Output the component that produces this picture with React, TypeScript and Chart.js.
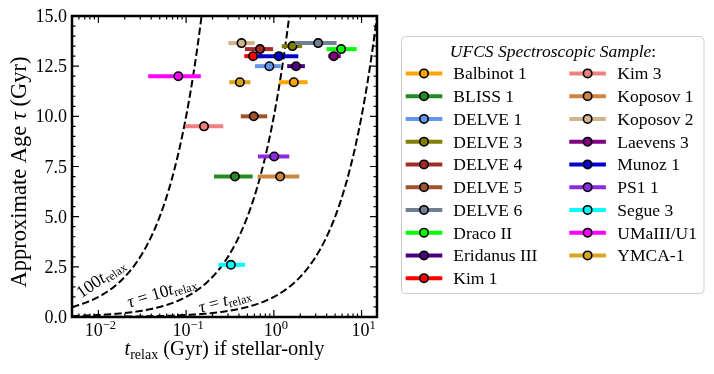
import React, { useEffect, useRef } from 'react';
import { Chart, registerables } from 'chart.js';

Chart.register(...registerables);

// ---------- data ----------
const clusterNames = ['Balbinot 1', 'BLISS 1', 'DELVE 1', 'DELVE 3', 'DELVE 4', 'DELVE 5', 'DELVE 6', 'Draco II', 'Eridanus III', 'Kim 1', 'Kim 3', 'Koposov 1', 'Koposov 2', 'Laevens 3', 'Munoz 1', 'PS1 1', 'Segue 3', 'UMaIII/U1', 'YMCA-1'];
const clusterColors = ['#FFA500', '#228B22', '#6495ED', '#808000', '#A52A2A', '#A0522D', '#708090', '#00FF00', '#4B0082', '#FF0000', '#F08080', '#CD853F', '#D2B48C', '#800080', '#0000CD', '#8A2BE2', '#00FFFF', '#FF00FF', '#DAA520'];
const tRelax = [1.69, 0.36, 0.89, 1.63, 0.695, 0.59, 3.2, 5.85, 1.79, 0.58, 0.16, 1.18, 0.428, 4.82, 1.14, 1.01, 0.324, 0.0815, 0.41];
const tRelaxLow = [1.15, 0.208, 0.61, 1.23, 0.469, 0.42, 1.75, 4.0, 1.42, 0.46, 0.097, 0.653, 0.303, 4.17, 0.65, 0.66, 0.233, 0.037, 0.31];
const tRelaxHigh = [2.43, 0.574, 1.2, 2.1, 0.98, 0.84, 5.19, 8.8, 2.26, 0.75, 0.265, 1.95, 0.605, 5.8, 1.9, 1.5, 0.47, 0.147, 0.54];
const ages = [11.7, 7.0, 12.5, 13.5, 13.35, 10.0, 13.65, 13.35, 12.5, 13.0, 9.5, 7.0, 13.65, 13.0, 13.0, 8.0, 2.6, 12.0, 11.7];

// relations tau = k * t_relax
const relationFactors = [100, 10, 1];
const relationLabelX = [0.0107, 0.053, 0.277];
const relationLabelY = [1.9, 1.22, 0.8];
const relationLabelAngle = [-35, -17, -15.5];

const xMin = 0.005;
const xMax = 15;
const yMin = 0;
const yMax = 15;
const xMajorTicks = [0.01, 0.1, 1, 10];
const xMajorExponents = ['\u22122', '\u22121', '0', '1'];
const yMajorTicks = [0, 2.5, 5, 7.5, 10, 12.5, 15];
const yTickLabels = ['0.0', '2.5', '5.0', '7.5', '10.0', '12.5', '15.0'];

const legendTitle = 'UFCS Spectroscopic Sample';

// ---------- drawing helpers ----------
const SERIF = '"Liberation Serif", "Times New Roman", serif';

type Seg = { t: string; size: number; italic?: boolean; dy?: number };

function fontOf(s: Seg) {
  return `${s.italic ? 'italic ' : ''}${s.size}px ${SERIF}`;
}
function segsWidth(ctx: CanvasRenderingContext2D, segs: Seg[]) {
  let w = 0;
  for (const s of segs) {
    ctx.font = fontOf(s);
    w += ctx.measureText(s.t).width;
  }
  return w;
}
function drawSegs(ctx: CanvasRenderingContext2D, segs: Seg[], x: number, y: number, align: 'left' | 'center' | 'right') {
  const w = segsWidth(ctx, segs);
  let cx = align === 'left' ? x : align === 'center' ? x - w / 2 : x - w;
  ctx.textAlign = 'left';
  ctx.textBaseline = 'alphabetic';
  for (const s of segs) {
    ctx.font = fontOf(s);
    ctx.fillText(s.t, cx, y + (s.dy || 0));
    cx += ctx.measureText(s.t).width;
  }
}

function relationSegs(i: number): Seg[] {
  const k = relationFactors[i];
  const sub: Seg = { t: 'relax', size: 12, dy: 2.5 };
  const t: Seg = { t: 't', size: 17.5, italic: true };
  if (i === 0) return [{ t: String(k), size: 17.5 }, t, sub];
  return [{ t: '\u03C4', size: 17.5, italic: true }, { t: ' = ' + (k === 1 ? '' : String(k)), size: 17.5 }, t, sub];
}

const customPlugin = {
  id: 'ufcsCustom',
  beforeDatasetDraw(chart: any, args: any) {
    const ds = chart.data.datasets[args.index];
    if (!ds.isCluster) return;
    const ctx: CanvasRenderingContext2D = chart.ctx;
    const ca = chart.chartArea;
    const xs = chart.scales.x;
    const ys = chart.scales.y;
    const p = ds.data[0];
    ctx.save();
    ctx.beginPath();
    ctx.rect(ca.left, ca.top, ca.right - ca.left, ca.bottom - ca.top);
    ctx.clip();
    ctx.strokeStyle = ds.backgroundColor;
    ctx.lineWidth = 4;
    ctx.lineCap = 'butt';
    const y = ys.getPixelForValue(p.y);
    ctx.beginPath();
    ctx.moveTo(xs.getPixelForValue(p.xlo), y);
    ctx.lineTo(xs.getPixelForValue(p.xhi), y);
    ctx.stroke();
    ctx.restore();
  },
  afterDraw(chart: any) {
    const ctx: CanvasRenderingContext2D = chart.ctx;
    const ca = chart.chartArea;
    const xs = chart.scales.x;
    const ys = chart.scales.y;
    ctx.save();
    ctx.fillStyle = '#000';
    ctx.strokeStyle = '#000';

    // relation labels
    relationFactors.forEach((_, i) => {
      const px = xs.getPixelForValue(relationLabelX[i]);
      const py = ys.getPixelForValue(relationLabelY[i]);
      ctx.save();
      ctx.translate(px, py);
      ctx.rotate((relationLabelAngle[i] * Math.PI) / 180);
      drawSegs(ctx, relationSegs(i), 0, 5, 'center');
      ctx.restore();
    });

    // ticks (inward, all four sides)
    ctx.lineWidth = 1.2;
    const majorLen = 7;
    const minorLen = 3.5;
    const vTick = (px: number, len: number) => {
      ctx.beginPath();
      ctx.moveTo(px, ca.bottom);
      ctx.lineTo(px, ca.bottom - len);
      ctx.moveTo(px, ca.top);
      ctx.lineTo(px, ca.top + len);
      ctx.stroke();
    };
    const hTick = (py: number, len: number) => {
      ctx.beginPath();
      ctx.moveTo(ca.left, py);
      ctx.lineTo(ca.left + len, py);
      ctx.moveTo(ca.right, py);
      ctx.lineTo(ca.right - len, py);
      ctx.stroke();
    };
    for (let e = -3; e <= 1; e++) {
      for (let m = 1; m <= 9; m++) {
        const v = m * Math.pow(10, e);
        if (v < xMin || v > xMax) continue;
        vTick(xs.getPixelForValue(v), m === 1 ? majorLen : minorLen);
      }
    }
    for (let v = yMin; v <= yMax + 1e-9; v += 0.5) {
      const isMajor = Math.abs(v / 2.5 - Math.round(v / 2.5)) < 1e-6;
      hTick(ys.getPixelForValue(v), isMajor ? majorLen : minorLen);
    }

    // frame
    ctx.lineWidth = 2.5;
    ctx.strokeRect(ca.left, ca.top, ca.right - ca.left, ca.bottom - ca.top);

    // y tick labels
    yMajorTicks.forEach((v, i) => {
      const py = ys.getPixelForValue(v);
      drawSegs(ctx, [{ t: yTickLabels[i], size: 18 }], ca.left - 5, py + 6, 'right');
    });
    // x tick labels
    xMajorTicks.forEach((v, i) => {
      const px = xs.getPixelForValue(v);
      drawSegs(ctx, [{ t: '10', size: 18 }, { t: xMajorExponents[i], size: 12.5, dy: -7 }], px + 2, ca.bottom + 19, 'center');
    });

    // axis labels
    drawSegs(ctx, [{ t: 't', size: 20.5, italic: true }, { t: 'relax', size: 14, dy: 4 }, { t: ' (Gyr) if stellar-only', size: 20.5 }], (ca.left + ca.right) / 2, 355, 'center');
    ctx.save();
    ctx.translate(25.5, 172);
    ctx.rotate(-Math.PI / 2);
    drawSegs(ctx, [{ t: 'Approximate Age ', size: 22.5 }, { t: '\u03C4', size: 22.5, italic: true }, { t: ' (Gyr)', size: 22.5 }], 0, 0, 'center');
    ctx.restore();

    // legend
    const bx = 401.5, by = 36.5, bw = 302.5, bh = 257;
    ctx.beginPath();
    (ctx as any).roundRect(bx, by, bw, bh, 4);
    ctx.fillStyle = '#fff';
    ctx.fill();
    ctx.strokeStyle = '#cccccc';
    ctx.lineWidth = 1;
    ctx.stroke();
    ctx.fillStyle = '#000';
    drawSegs(ctx, [{ t: legendTitle, size: 17.5, italic: true }, { t: ':', size: 17.5 }], 553, 57, 'center');

    const clusterSets = chart.data.datasets.filter((d: any) => d.isCluster);
    clusterSets.forEach((d: any, i: number) => {
      const col = i < 10 ? 0 : 1;
      const row = i < 10 ? i : i - 10;
      const cy = 73.4 + row * 22.75;
      const lx = col === 0 ? 405.7 : 569.3;
      const tx = col === 0 ? 453.3 : 617.3;
      ctx.strokeStyle = d.backgroundColor;
      ctx.lineWidth = 4;
      ctx.beginPath();
      ctx.moveTo(lx, cy);
      ctx.lineTo(lx + 36.6, cy);
      ctx.stroke();
      ctx.beginPath();
      ctx.arc(lx + 18.3, cy, 4.2, 0, Math.PI * 2);
      ctx.fillStyle = d.backgroundColor;
      ctx.fill();
      ctx.strokeStyle = '#000';
      ctx.lineWidth = 1.6;
      ctx.stroke();
      ctx.fillStyle = '#000';
      drawSegs(ctx, [{ t: d.label, size: 17.5 }], tx, cy + 6, 'left');
    });

    ctx.restore();
  },
};

export default function App() {
  const canvasRef = useRef<HTMLCanvasElement | null>(null);

  useEffect(() => {
    if (!canvasRef.current) return;
    // sample the log axis to draw the analytic relations tau = k * t_relax
    const nSamples = 400;
    const curveXs: number[] = [];
    for (let i = 0; i < nSamples; i++) {
      curveXs.push(Math.pow(10, Math.log10(xMin) + (i / (nSamples - 1)) * (Math.log10(xMax) - Math.log10(xMin))));
    }

    const curveSets = relationFactors.map((k) => ({
      type: 'line',
      label: 'tau = ' + k + ' t_relax',
      data: curveXs.filter((x) => k * x <= yMax * 1.08).map((x) => ({ x, y: k * x })),
      borderColor: '#000',
      borderWidth: 2,
      borderDash: [7.4, 3.2],
      pointRadius: 0,
      fill: false,
      tension: 0,
      order: 1000,
    }));

    const clusterSets = clusterNames.map((name, i) => ({
      type: 'scatter',
      label: name,
      isCluster: true,
      data: [{ x: tRelax[i], y: ages[i], xlo: tRelaxLow[i], xhi: tRelaxHigh[i] }],
      backgroundColor: clusterColors[i],
      borderColor: '#000',
      pointRadius: 4.2,
      pointHoverRadius: 4.2,
      pointBorderWidth: 1.6,
      order: clusterNames.length - i,
    }));

    const chart = new Chart(canvasRef.current, {
      type: 'scatter',
      data: { datasets: [...curveSets, ...clusterSets] as any },
      options: {
        animation: false,
        responsive: false,
        events: [],
        layout: { padding: { left: 72, right: 337, top: 16, bottom: 57 } },
        plugins: { legend: { display: false }, tooltip: { enabled: false } },
        scales: {
          x: { type: 'logarithmic', min: xMin, max: xMax, display: false },
          y: { type: 'linear', min: yMin, max: yMax, display: false },
        },
      } as any,
      plugins: [customPlugin as any],
    });
    return () => chart.destroy();
  }, []);

  return (
    <div style={{ position: 'absolute', left: 0, top: 0, width: 714, height: 374, background: '#fff' }}>
      <canvas ref={canvasRef} width={714} height={374} style={{ display: 'block' }} />
    </div>
  );
}
